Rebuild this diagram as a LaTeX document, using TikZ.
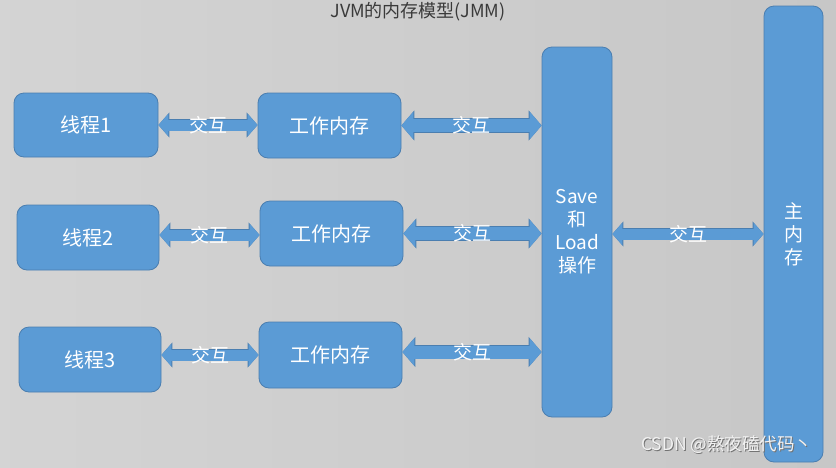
\documentclass[tikz,border=0pt]{standalone}
\usepackage{fontspec}
\setmainfont{Noto Sans CJK SC}
\usepackage{tikz}
\usetikzlibrary{arrows.meta, positioning, calc}
\definecolor{boxblue}{HTML}{5B9BD5}
\definecolor{edgeblue}{HTML}{4A7EB0}
\definecolor{titlegray}{HTML}{3A3A3A}
\tikzstyle{unit} = [rectangle, rounded corners=10pt, draw=edgeblue, line width=0.8pt, fill=boxblue, text=white, text centered, font=\fontsize{20}{24}\selectfont, inner sep=0pt]
\tikzstyle{tall} = [unit, align=center, font=\fontsize{19}{23}\selectfont]
\tikzstyle{link} = [line width=11pt, draw=boxblue, {Triangle[width=22pt,length=10pt]}-{Triangle[width=22pt,length=10pt]}, preaction={draw=edgeblue, line width=12.5pt, {Triangle[width=24.5pt,length=11pt]}-{Triangle[width=24.5pt,length=11pt]}}]
\tikzstyle{widelink} = [line width=13pt, draw=boxblue, {Triangle[width=27pt,length=12pt]}-{Triangle[width=27pt,length=12pt]}, preaction={draw=edgeblue, line width=14.5pt, {Triangle[width=29.5pt,length=13pt]}-{Triangle[width=29.5pt,length=13pt]}}]
\tikzstyle{linktext} = [text=white, font=\fontsize{19}{21}\selectfont, inner sep=0pt]
\newcommand{\marktext}{CSDN @熬夜磕代码丶}

\begin{document}
\begin{tikzpicture}[x=1pt, y=-1pt]

\shade[left color=black!17, right color=black!22] (0,0) rectangle (836,467);
\useasboundingbox (0,0) rectangle (836,467);

\node (title) [text=titlegray, font=\fontsize{18}{21}\selectfont] at (418,12) {JVM的内存模型(JMM)};

\node (t1) [unit, minimum width=144pt, minimum height=64pt] at (86,125) {线程1};
\node (w1) [unit, minimum width=143pt, minimum height=65pt] at (329.5,125.5) {工作内存};
\node (t2) [unit, minimum width=142pt, minimum height=65pt] at (88,237.5) {线程2};
\node (w2) [unit, minimum width=143pt, minimum height=65pt] at (331.5,233.5) {工作内存};
\node (t3) [unit, minimum width=142pt, minimum height=65pt] at (90,359.5) {线程3};
\node (w3) [unit, minimum width=143pt, minimum height=66pt] at (330.5,355) {工作内存};
\node (save) [tall, minimum width=70pt, minimum height=370pt] at (577,232) {Save\\和\\Load\\操作};
\node (mainmem) [tall, minimum width=59pt, minimum height=456pt] at (793.5,234) {主\\内\\存};

\draw [link] (t1.east) -- node[linktext] {交互} (t1.east -| w1.west);
\draw [widelink] (w1.east) -- node[linktext] {交互} (w1.east -| save.west);
\draw [link] ($(t2.east)+(0,-2.5)$) -- node[linktext] {交互} ($(t2.east -| w2.west)+(0,-2.5)$);
\draw [widelink] (w2.east) -- node[linktext] {交互} (w2.east -| save.west);
\draw [link] (t3.east |- w3.west) -- node[linktext] {交互} (w3.west);
\draw [widelink] ($(w3.east)+(0,-3)$) -- node[linktext] {交互} ($(w3.east -| save.west)+(0,-3)$);
\draw [link] (save.east |- mainmem.west) -- node[linktext] {交互} (mainmem.west);

% watermark
\node (mark) [anchor=east, font=\fontsize{17.5}{20}\selectfont] at (816,445) {\rlap{\hspace{0.9pt}\raisebox{-0.9pt}{\textcolor{black!55}{\marktext}}}\textcolor{white!95!black}{\marktext}};

\end{tikzpicture}
\end{document}
